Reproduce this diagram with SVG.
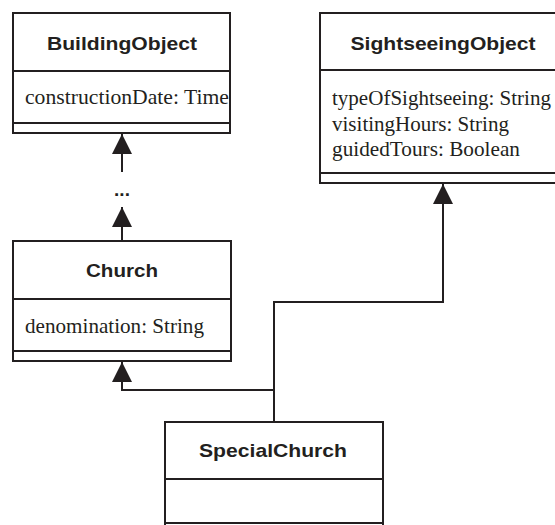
<svg xmlns="http://www.w3.org/2000/svg" width="555" height="525" viewBox="0 0 555 525">
  <style>
    .box { fill: #ffffff; stroke: #231f20; stroke-width: 2; }
    .div { stroke: #231f20; stroke-width: 2; }
    .title { font-family: "Liberation Sans", Arial, sans-serif; font-weight: bold; font-size: 19px; fill: #231f20; text-anchor: middle; }
    .attr { font-family: "Liberation Serif", "Times New Roman", serif; font-size: 21px; fill: #231f20; }
    .conn { fill: none; stroke: #231f20; stroke-width: 2; }
  </style>
  <defs>
    <marker id="tri" markerWidth="20" markerHeight="20" viewBox="0 0 20 20" refX="20" refY="10" orient="auto" markerUnits="userSpaceOnUse">
      <path d="M0,0 L20,10 L0,20 Z" fill="#231f20"/>
    </marker>
  </defs>
  <rect width="555" height="525" fill="#ffffff"/>

  <g id="BuildingObject">
    <rect class="box" x="13" y="13" width="217" height="120"/>
    <line class="div" x1="13" y1="71" x2="230" y2="71"/>
    <line class="div" x1="13" y1="123" x2="230" y2="123"/>
    <text class="title" x="122" y="50" textLength="150" lengthAdjust="spacingAndGlyphs">BuildingObject</text>
    <text class="attr" x="25" y="104" textLength="204" lengthAdjust="spacingAndGlyphs">constructionDate: Time</text>
  </g>

  <g id="SightseeingObject">
    <rect class="box" x="320" y="13" width="245" height="170"/>
    <line class="div" x1="320" y1="70" x2="565" y2="70"/>
    <line class="div" x1="320" y1="173" x2="565" y2="173"/>
    <text class="title" x="443" y="50" textLength="185" lengthAdjust="spacingAndGlyphs">SightseeingObject</text>
    <text class="attr" x="332" y="105" textLength="219" lengthAdjust="spacingAndGlyphs">typeOfSightseeing: String</text>
    <text class="attr" x="332" y="130.5" textLength="177" lengthAdjust="spacingAndGlyphs">visitingHours: String</text>
    <text class="attr" x="332" y="156" textLength="188" lengthAdjust="spacingAndGlyphs">guidedTours: Boolean</text>
  </g>

  <g id="Church">
    <rect class="box" x="13" y="241" width="218" height="120"/>
    <line class="div" x1="13" y1="299" x2="231" y2="299"/>
    <line class="div" x1="13" y1="351" x2="231" y2="351"/>
    <text class="title" x="122" y="277" textLength="72" lengthAdjust="spacingAndGlyphs">Church</text>
    <text class="attr" x="25" y="333" textLength="179" lengthAdjust="spacingAndGlyphs">denomination: String</text>
  </g>

  <g id="SpecialChurch">
    <rect class="box" x="165" y="422" width="218" height="120"/>
    <line class="div" x1="165" y1="479" x2="383" y2="479"/>
    <line class="div" x1="165" y1="523" x2="383" y2="523"/>
    <text class="title" x="273" y="457" textLength="148" lengthAdjust="spacingAndGlyphs">SpecialChurch</text>
  </g>

  <g id="connectors">
    <!-- elided inheritance chain: Church ... BuildingObject -->
    <line class="conn" x1="122" y1="241" x2="122" y2="207" marker-end="url(#tri)"/>
    <text class="title" x="122" y="196">...</text>
    <line class="conn" x1="122" y1="172" x2="122" y2="134" marker-end="url(#tri)"/>
    <!-- SpecialChurch generalizes to both parents -->
    <path class="conn" d="M274,422 L274,390 L122,390 L122,362" marker-end="url(#tri)"/>
    <path class="conn" d="M274,390 L274,302 L443,302 L443,184" marker-end="url(#tri)"/>
  </g>
</svg>
